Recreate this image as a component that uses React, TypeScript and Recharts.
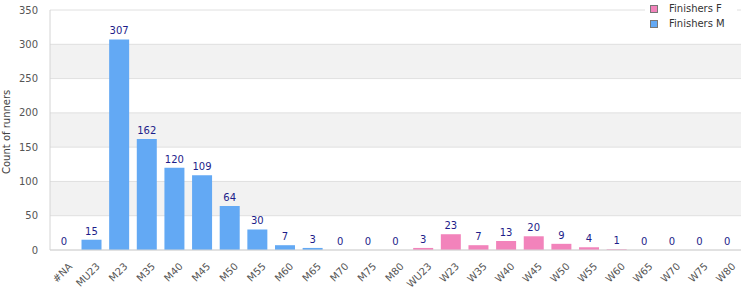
import { ComposedChart, Bar, Line, XAxis, YAxis, CartesianGrid, Cell, LabelList } from 'recharts'

const menCategories = ['#NA', 'MU23', 'M23', 'M35', 'M40', 'M45', 'M50', 'M55', 'M60', 'M65', 'M70', 'M75', 'M80']
const menFinishers = [0, 15, 307, 162, 120, 109, 64, 30, 7, 3, 0, 0, 0]
const womenCategories = ['WU23', 'W23', 'W35', 'W40', 'W45', 'W50', 'W55', 'W60', 'W65', 'W70', 'W75', 'W80']
const womenFinishers = [3, 23, 7, 13, 20, 9, 4, 1, 0, 0, 0, 0]
const yTicks = [0, 50, 100, 150, 200, 250, 300, 350]

const BLUE = '#63a9f4'
const PINK = '#f283bb'
const FONT = '"DejaVu Sans", Verdana, sans-serif'

const chartData = [
  ...menCategories.map((cat, i) => ({ cat, count: menFinishers[i], sex: 'M' })),
  ...womenCategories.map((cat, i) => ({ cat, count: womenFinishers[i], sex: 'F' })),
]

const legendItems = [
  { label: 'Finishers F', color: PINK },
  { label: 'Finishers M', color: BLUE },
]

function LegendBox() {
  return (
    <div
      style={{
        position: 'absolute',
        left: 645,
        top: 0,
        width: 92,
        height: 31,
        background: '#fff',
        fontFamily: FONT,
        fontSize: 10,
        color: '#333',
        boxSizing: 'border-box',
        paddingTop: 1,
        paddingLeft: 5,
      }}
    >
      {legendItems.map(item => (
        <div key={item.label} style={{ display: 'flex', alignItems: 'center', height: 15 }}>
          <span style={{ width: 6, height: 6, background: item.color, border: '1px solid #777', marginRight: 11 }} />
          <span>{item.label}</span>
        </div>
      ))}
    </div>
  )
}

function XTick({ x, y, payload }: any) {
  return (
    <text
      x={x + 4}
      y={y + 4}
      textAnchor="end"
      fontSize={10}
      fontFamily={FONT}
      fill="#555"
      transform={`rotate(-45 ${x + 4} ${y + 4})`}
      dominantBaseline="hanging"
    >
      {payload.value}
    </text>
  )
}

function BarValue({ x, y, value }: any) {
  return (
    <text x={x} y={y - 5} textAnchor="middle" fontSize={10} fontFamily={FONT} fill="#1d1d8a">
      {value}
    </text>
  )
}

export default function App() {
  return (
    <div style={{ position: 'absolute', left: 0, top: 0, width: 750, height: 300, background: '#fff' }}>
      <ComposedChart
        width={750}
        height={300}
        data={chartData}
        margin={{ top: 10, right: 9, bottom: 0, left: 0 }}
        barCategoryGap="14%"
      >
        <CartesianGrid
          vertical={false}
          stroke="#e0e0e0"
          horizontalFill={['#ffffff', '#f2f2f2']}
          fillOpacity={1}
        />
        <XAxis
          dataKey="cat"
          interval={0}
          height={50}
          tickLine={false}
          axisLine={{ stroke: '#d4d4d4' }}
          tick={<XTick />}
        />
        <XAxis xAxisId="top" orientation="top" dataKey="cat" height={0} tick={false} tickLine={false} axisLine={{ stroke: '#d4d4d4' }} />
        <YAxis
          domain={[0, 350]}
          ticks={yTicks}
          width={50}
          tickLine={false}
          axisLine={{ stroke: '#d4d4d4' }}
          tick={{ fontSize: 10, fill: '#555', fontFamily: FONT }}
          tickMargin={6}
          label={{
            value: 'Count of runners',
            angle: -90,
            position: 'insideLeft',
            dx: 1,
            dy: 44,
            style: { fontSize: 10, fill: '#444', fontFamily: FONT },
          }}
        />
        <YAxis yAxisId="right" orientation="right" width={0} tick={false} tickLine={false} axisLine={{ stroke: '#d4d4d4' }} />
        <Bar dataKey="count" isAnimationActive={false}>
          {chartData.map(d => (
            <Cell key={d.cat} fill={d.sex === 'M' ? BLUE : PINK} />
          ))}
        </Bar>
        <Line
          dataKey="count"
          stroke="none"
          dot={false}
          activeDot={false}
          legendType="none"
          isAnimationActive={false}
        >
          <LabelList dataKey="count" content={<BarValue />} />
        </Line>
      </ComposedChart>
      <LegendBox />
    </div>
  )
}
